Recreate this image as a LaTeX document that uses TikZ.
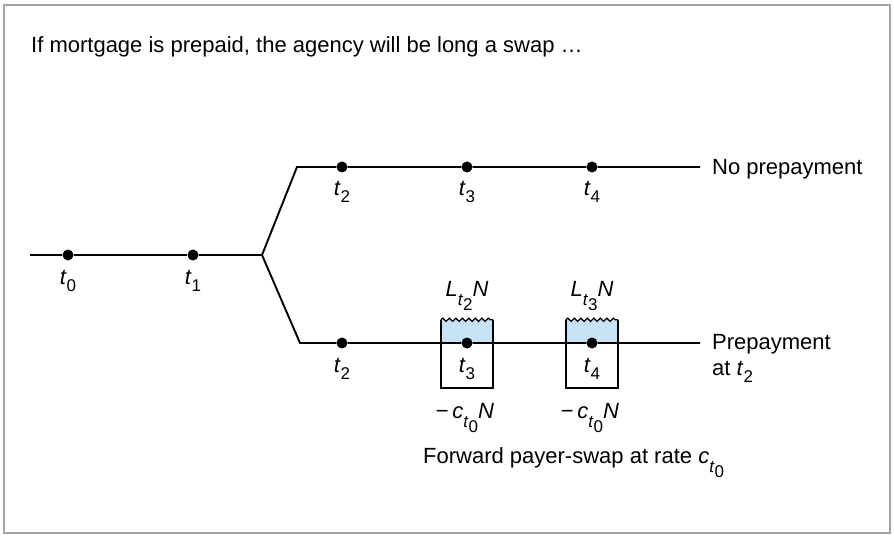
\documentclass[tikz,border=0pt]{standalone}
\usepackage{fontspec}
\setmainfont{Liberation Sans}
\usetikzlibrary{positioning,calc,decorations.pathmorphing}
\definecolor{framegray}{RGB}{165,165,165}
\definecolor{cashblue}{RGB}{200,226,246}
\newcommand\lowsub[2][7pt]{\raisebox{-#1}{\fontsize{17}{17}\selectfont #2}}
\newcommand\tvar[1]{\textit{t}\lowsub{#1}}
\newcommand\ratevar[2]{\textit{#1}\lowsub[9pt]{\textit{t}\lowsub[5pt]{#2}}}

\begin{document}
\begin{tikzpicture}[x=1pt, y=-1pt,
  dot/.style={circle, fill=black, inner sep=0pt, minimum size=11pt},
  txt/.style={font=\fontsize{22}{26}\selectfont, inner sep=0pt},
  branch/.style={line width=1.9pt},
  cashbox/.style={minimum width=52pt, minimum height=68pt, inner sep=0pt},
  wavy/.style={decorate, line width=1.3pt,
    decoration={snake, segment length=6.5pt, amplitude=1.6pt}}
]
  \useasboundingbox (0,0) rectangle (894,537);
  \draw[framegray, line width=2.4pt] (4,5) rectangle (890,533);

  \node[txt, anchor=base west] (title) at (31,53)
    {If mortgage is prepaid, the agency will be long a swap \dots};

  % cash-flow boxes of the forward swap
  \node[cashbox] (box3) at (467,354) {};
  \node[cashbox] (box4) at (592,354) {};
  \foreach \b in {box3,box4} {
    \fill[cashblue] (\b.north west) rectangle ($(\b.east)+(0,-11)$);
    \draw[branch] (\b.north west) -- (\b.south west) -- (\b.south east) -- (\b.north east);
    \draw[wavy] (\b.north west) -- (\b.north east);
  }

  % time points
  \node[dot] (t0) at (68,255) {};
  \node[dot] (t1) at (193,255) {};
  \foreach \x/\n in {342/2, 467/3, 592/4} {
    \node[dot] (up\n) at (\x,167) {};
    \node[dot] (dn\n) at (\x,343) {};
  }
  \coordinate (start) at (30,255);
  \coordinate (fork) at (262,255);
  \coordinate (upbend) at (297,167);
  \coordinate (dnbend) at (300,343);
  \coordinate (upend) at (700,167);
  \coordinate (dnend) at (700,343);

  \draw[branch] (start) -- (t0) -- (t1) -- (fork);
  \draw[branch] (fork) -- (upbend) -- (up2) -- (up3) -- (up4) -- (upend);
  \draw[branch] (fork) -- (dnbend) -- (dn2) -- (dn3) -- (dn4) -- (dnend);

  % time labels
  \node[txt, anchor=base] (lt0) at ($(t0)+(0,29)$) {\tvar{0}};
  \node[txt, anchor=base] (lt1) at ($(t1)+(0,29)$) {\tvar{1}};
  \foreach \n in {2,3,4} {
    \node[txt, anchor=base] (lup\n) at ($(up\n)+(0,29)$) {\tvar{\n}};
    \node[txt, anchor=base] (ldn\n) at ($(dn\n)+(0,29)$) {\tvar{\n}};
  }

  % swap legs
  \node[txt, anchor=base] (float3) at (467,297) {\ratevar{L}{2}\textit{N}};
  \node[txt, anchor=base] (float4) at (592,297) {\ratevar{L}{3}\textit{N}};
  \node[txt, anchor=base] (fix3) at (465,418) {−\,\ratevar{c}{0}\textit{N}};
  \node[txt, anchor=base] (fix4) at (590,418) {−\,\ratevar{c}{0}\textit{N}};

  \node[txt, anchor=base west] (nopre) at (712,175) {No prepayment};
  \node[txt, anchor=north west, align=left] (pre) at (712,334) {Prepayment\\at \tvar{2}};
  \node[txt, anchor=base west] (fwd) at (423,463)
    {Forward payer-swap at rate \ratevar{c}{0}};
\end{tikzpicture}
\end{document}
